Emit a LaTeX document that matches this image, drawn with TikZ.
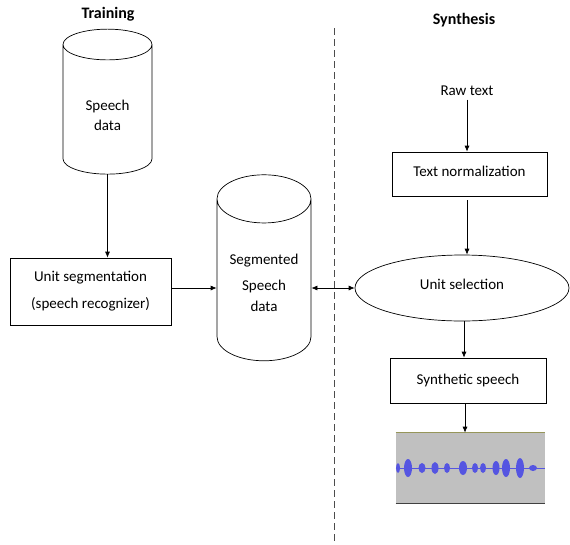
\documentclass[tikz,border=0pt]{standalone}
\usepackage{fontspec}
\setmainfont{Carlito}
\usetikzlibrary{shapes.geometric,arrows.meta}

\definecolor{wavegray}{RGB}{192,192,192}
\definecolor{waveblue}{RGB}{85,85,225}
\definecolor{waveedge}{RGB}{150,150,90}

\tikzset{
	box/.style={draw, rectangle, align=center, inner sep=2pt},
	store/.style={draw, cylinder, shape border rotate=90, aspect=0.7, align=center, inner sep=0pt},
	conn/.style={-{Latex[length=6pt,width=5pt]}},
	divider/.style={dashed, draw=black!70, dash pattern=on 7pt off 4pt},
}

\begin{document}
\begin{tikzpicture}[x=1pt, y=-1pt, line width=0.7pt, font=\fontsize{15}{18}\selectfont]
		\useasboundingbox (0,0) rectangle (570,544);
		% headings and the dividing line
		\node[font=\fontsize{16}{19}\selectfont\bfseries] (train) at (108,14) {Training};
		\node[font=\fontsize{16}{19}\selectfont\bfseries] (synth) at (464,20) {Synthesis};
		\coordinate (divtop) at (334,28);
		\coordinate (divbot) at (334,544);
		\draw[divider] (divtop) -- (divbot);
		% training side
		\node[store, minimum width=89pt, minimum height=145pt] (speech) at (107.5,109.5) {\rule{0pt}{23pt}Speech\\[2pt]data};
		\node[box, minimum width=161pt, minimum height=67pt] (segm) at (90.5,291.5) {Unit segmentation\\[9pt](speech recognizer)};
		\node[store, minimum width=94pt, minimum height=186pt] (segdata) at (264,280) {\rule{0pt}{16pt}Segmented\\[8pt]Speech\\[3pt]data};
		% synthesis side
		\node (raw) at (467,91) {Raw text};
		\node[box, minimum width=155pt, minimum height=44pt] (norm) at (469.5,174) {Text normalization\rule[-6pt]{0pt}{6pt}};
		\node[draw, ellipse, minimum width=214pt, minimum height=66pt, inner sep=0pt] (usel) at (462,288) {Unit selection\rule[-8pt]{0pt}{8pt}};
		\node[box, minimum width=156pt, minimum height=45pt] (synsp) at (468,380.5) {Synthetic speech};
		\node[fill=wavegray, minimum width=149pt, minimum height=70pt, inner sep=0pt] (wave) at (470.5,468) {};
		\draw[waveedge, line width=1pt] (wave.north west) -- (wave.north east);
		\draw[black!75, line width=1.2pt] (wave.south west) -- (wave.south east);
		\draw[waveblue, line width=0.6pt] (wave.west) -- (wave.east);
		\foreach \x/\h/\w in {398/5/2, 408/9/4, 422/5/3.5, 435/6/3.5, 447/5/3, 463/7/4, 475/5/3, 483/5/3, 496/7/3.5, 506/9/4, 520/10/4, 533/3/4} {
			\fill[waveblue] (\x,468) ellipse ({\w} and {\h});
		};
		% connectors
		\draw[conn] (speech.south) -- (segm.north -| speech.south);
		\draw[conn] (segm.east |- 0,288) -- (segdata.west |- 0,288);
		\draw[{Latex[length=6pt,width=5pt]}-{Latex[length=6pt,width=5pt]}] (segdata.east |- usel.west) -- (usel.west);
		\draw[conn] (raw.south) -- (raw.south |- norm.north);
		\draw[conn] ([yshift=-4pt]norm.south -| raw.south) -- (raw.south |- usel.north);
		\draw[conn] (usel.south -| 464,0) -- (synsp.north -| 464,0);
		\draw[conn] (synsp.south -| 465,0) -- (wave.north -| 465,0);
	\end{tikzpicture}
\end{document}
